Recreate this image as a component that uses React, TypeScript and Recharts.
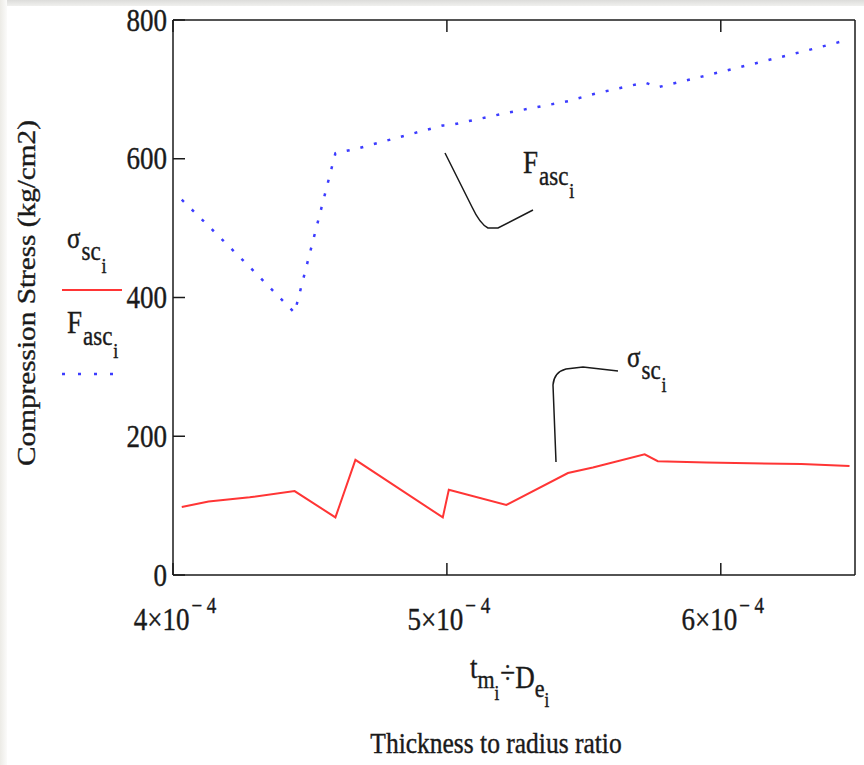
import { LineChart, Line, XAxis, YAxis } from 'recharts';

// thickness-to-radius ratio (t_m / D_e)
const ratio = [4.032e-4, 4.13e-4, 4.28e-4, 4.444e-4, 4.593e-4, 4.666e-4, 4.985e-4, 5.007e-4, 5.217e-4, 5.442e-4, 5.533e-4, 5.722e-4, 5.77e-4, 5.947e-4, 6.294e-4, 6.47e-4];
// sigma_sc (kg/cm2)
const sigmaSc = [98, 106, 112, 121, 83, 166, 83, 123, 101, 147, 155, 174, 164, 162, 160, 157];
// F_asc (kg/cm2)
const fAsc = [541, 503, 444, 378, 608, 614, 648, 648, 666, 683, 693, 710, 703, 720, 754, 772];

const xTicks = [4e-4, 5e-4, 6e-4];
const yTicks = [0, 200, 400, 600, 800];

const data = ratio.map((x, i) => ({ x, sigma: sigmaSc[i], fasc: fAsc[i] }));

const SERIF = '"Liberation Serif", "Times New Roman", serif';
const INK = '#1a1a1a';
const RED = '#ff3535';
const BLUE = '#3c3cff';
const STRETCH = 1.17;
const TICK = 12;

function StretchText({ x, y, size, anchor = 'start', children }: any) {
  return (
    <text
      transform={`translate(${x},${y}) scale(1,${STRETCH})`}
      textAnchor={anchor}
      fontFamily={SERIF}
      fontSize={size}
      fill={INK}
      stroke={INK}
      strokeWidth={0.35}
    >
      {children}
    </text>
  );
}

function LeftTick({ x, y, payload }: any) {
  return (
    <g>
      <line x1={x} y1={y} x2={x + TICK} y2={y} stroke={INK} strokeWidth={1.5} />
      <StretchText x={x - 6} y={y + 10.5} size={27} anchor="end">{payload.value}</StretchText>
    </g>
  );
}

function RightTick({ x, y }: any) {
  return <line x1={x} y1={y} x2={x - TICK} y2={y} stroke={INK} strokeWidth={1.5} />;
}

function TopTick({ x, y }: any) {
  return <line x1={x} y1={y} x2={x} y2={y + TICK} stroke={INK} strokeWidth={1.5} />;
}

function BottomTick({ x, y, payload }: any) {
  const m = Math.round(payload.value * 1e4);
  return (
    <g>
      <line x1={x} y1={y} x2={x} y2={y - TICK} stroke={INK} strokeWidth={1.5} />
      <StretchText x={x + 2} y={y + 55} size={27} anchor="middle">
        <tspan>{`${m}×10`}</tspan>
        <tspan fontSize={19} dy={-14.5} dx={2}>− 4</tspan>
      </StretchText>
    </g>
  );
}

function Sym({ x, y, main, sub, mainSize = 27 }: any) {
  return (
    <StretchText x={x} y={y} size={mainSize}>
      <tspan>{main}</tspan>
      <tspan fontSize={23} dy={10.5} dx={1}>{sub}</tspan>
      <tspan fontSize={18} dy={10.5} dx={1}>i</tspan>
    </StretchText>
  );
}

export default function App() {
  return (
    <div style={{ position: 'absolute', left: 0, top: 0, width: 864, height: 765, background: '#fff' }}>
      <div style={{ position: 'absolute', left: 0, top: 0, width: 864, height: 6, background: 'linear-gradient(#dcdcda, #f0f0ee)' }} />
      <div style={{ position: 'absolute', left: 0, top: 0, width: 7, height: 765, background: 'linear-gradient(90deg, #ecebe6, #fbfbfa)' }} />
      <div style={{ position: 'absolute', left: 0, top: 0 }}>
        <LineChart width={864} height={765} data={data} margin={{ top: 19, right: 8, bottom: 0, left: 0 }}>
          <XAxis
            xAxisId="b"
            type="number"
            dataKey="x"
            domain={[4e-4, 6.49e-4]}
            ticks={xTicks}
            interval={0}
            height={190}
            tickSize={0}
            tickMargin={0}
            tickLine={false}
            tick={<BottomTick />}
            axisLine={{ stroke: INK, strokeWidth: 1.5 }}
          />
          <XAxis
            xAxisId="t"
            orientation="top"
            type="number"
            dataKey="x"
            domain={[4e-4, 6.49e-4]}
            ticks={xTicks}
            interval={0}
            height={1}
            tickSize={0}
            tickMargin={0}
            tickLine={false}
            tick={<TopTick />}
            axisLine={{ stroke: INK, strokeWidth: 1.5 }}
          />
          <YAxis
            yAxisId="l"
            type="number"
            domain={[0, 800]}
            ticks={yTicks}
            interval={0}
            width={173}
            tickSize={0}
            tickMargin={0}
            tickLine={false}
            tick={<LeftTick />}
            axisLine={{ stroke: INK, strokeWidth: 1.5 }}
          />
          <YAxis
            yAxisId="r"
            orientation="right"
            type="number"
            domain={[0, 800]}
            ticks={yTicks}
            interval={0}
            width={1}
            tickSize={0}
            tickMargin={0}
            tickLine={false}
            tick={<RightTick />}
            axisLine={{ stroke: INK, strokeWidth: 1.5 }}
          />
          <Line
            xAxisId="b"
            yAxisId="l"
            type="linear"
            dataKey="fasc"
            stroke={BLUE}
            strokeWidth={2.5}
            strokeDasharray="3 11"
            dot={false}
            isAnimationActive={false}
          />
          <Line
            xAxisId="b"
            yAxisId="l"
            type="linear"
            dataKey="sigma"
            stroke={RED}
            strokeWidth={2}
            dot={false}
            isAnimationActive={false}
          />
        </LineChart>
      </div>
      <svg width={864} height={765} style={{ position: 'absolute', left: 0, top: 0, pointerEvents: 'none' }}>
        {/* y axis title */}
        <text
          transform={`translate(35,293) rotate(-90) scale(${STRETCH},1)`}
          textAnchor="middle"
          fontFamily={SERIF}
          fontSize={25}
          fill={INK}
          stroke={INK}
          strokeWidth={0.35}
        >
          Compression Stress (kg/cm2)
        </text>

        {/* legend */}
        <Sym x={67} y={248} main="σ" sub="sc" mainSize={25} />
        <line x1={62} y1={290} x2={122} y2={290} stroke={RED} strokeWidth={2} />
        <Sym x={67} y={333} main="F" sub="asc" />
        <line x1={62} y1={374} x2={114} y2={374} stroke={BLUE} strokeWidth={2.5} strokeDasharray="3 13" />

        {/* annotations */}
        <path d="M445,153 L472,207 Q480,224 488,228 L498,228 L533,210" fill="none" stroke={INK} strokeWidth={1.5} />
        <Sym x={523} y={173} main="F" sub="asc" />
        <path d="M618,371 L583,367 L566,369 Q554,372 553,385 L556,462" fill="none" stroke={INK} strokeWidth={1.5} />
        <Sym x={627} y={367} main="σ" sub="sc" mainSize={25} />

        {/* x axis titles */}
        <StretchText x={470} y={678} size={27}>
          <tspan>t</tspan>
          <tspan fontSize={22} dy={8.5}>m</tspan>
          <tspan fontSize={17} dy={10}>i</tspan>
          <tspan dy={-14} dx={1}>÷</tspan>
          <tspan dy={4}>D</tspan>
          <tspan fontSize={22} dy={7.5}>e</tspan>
          <tspan fontSize={17} dy={9}>i</tspan>
        </StretchText>
        <StretchText x={496} y={753} size={25.5} anchor="middle">Thickness to radius ratio</StretchText>
      </svg>
    </div>
  );
}
